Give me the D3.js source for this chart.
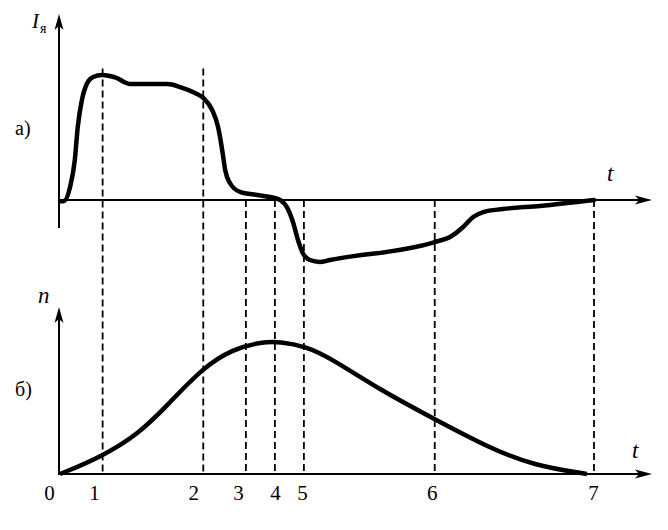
<!DOCTYPE html>
<html><head><meta charset="utf-8">
<script src="https://cdn.jsdelivr.net/npm/d3@7"></script>
<style>body{margin:0;background:#fff}svg{display:block}
svg text{font-family:"Liberation Serif","Noto Serif","DejaVu Serif","Times New Roman",Times,serif;fill:#000}</style>
</head><body><svg id="c" width="668" height="530"></svg>
<script>
// ---- data (arbitrary time units 0..100) ----
const timeMarks = [7.2, 24.2, 31.4, 36.3, 41.2, 63.3, 90.2];
const tickValues = [0, 7.2, 24.2, 31.4, 36.3, 41.2, 63.3, 90.2];
const tickLabels = ["0", "1", "2", "3", "4", "5", "6", "7"];
const dashTopI = [106, 106, 0, 0, 0, 0, 0];   // where each dashed line starts in the upper panel (I units)

const currentT = [0, 0.7, 1.7, 2.5, 3.0, 3.7, 4.6, 5.6, 7.1, 8.4, 9.6, 10.8, 11.8, 15.2, 18.2, 20.3, 22.8, 24.2, 25.7, 26.7, 27.4, 27.9, 28.7, 30.4, 33.3, 35.5, 37.2, 38.3, 39.4, 40.2, 41.0, 42.2, 43.9, 45.6, 63.3, 65.9, 68.1, 69.8, 71.5, 74.8, 81.1, 90.2];
const currentI = [-1, -0.8, 10.5, 32.3, 58.9, 80.6, 94.4, 99.2, 100.8, 100, 98.4, 95.2, 93.5, 93.5, 93.5, 91.1, 86.3, 82.3, 72.6, 58.9, 40.3, 24.2, 13.7, 6.5, 4.0, 2.4, 0, -5.6, -18.5, -32.3, -42.7, -48.4, -50, -48.4, -33.9, -29.8, -21.8, -13.7, -9.7, -7.3, -4.8, 0];

const speedT = [0, 6.8, 13.5, 18.1, 24.2, 29.2, 34.1, 37.2, 41.4, 45.6, 54.1, 63.3, 72.6, 80.0, 89.0];
const speedN = [0, 12.5, 31.1, 52, 80.8, 94.6, 100.2, 100.2, 96.8, 88.2, 63.6, 41.5, 19.6, 6.5, 0];

// ---- styling ----
const labelNudge = [-11, -8.5, -10, -8, 0, -2, -3, -1];

const svg = d3.select("#c");
const x = d3.scaleLinear().domain([0, 100]).range([60, 652]);
const yI = d3.scaleLinear().domain([0, 150]).range([200, 14]);
const yN = d3.scaleLinear().domain([0, 126.5]).range([474, 307]);

function arrowUp(g, xp, yp) {
  g.append("path").attr("d", `M${xp},${yp} L${xp-4.5},${yp+16} L${xp},${yp+12} L${xp+4.5},${yp+16} Z`).attr("fill", "#000");
}
function arrowRight(g, xp, yp) {
  g.append("path").attr("d", `M${xp},${yp} L${xp-17},${yp-4.5} L${xp-13},${yp} L${xp-17},${yp+4.5} Z`).attr("fill", "#000");
}

// dashed guide lines
svg.append("g").selectAll("line").data(timeMarks).join("line")
  .attr("x1", d => x(d)).attr("x2", d => x(d))
  .attr("y1", (d, i) => yI(dashTopI[i])).attr("y2", yN(0))
  .attr("stroke", "#000").attr("stroke-width", 1.8).attr("stroke-dasharray", "7,4");

// axes
const ax = svg.append("g").attr("stroke", "#000").attr("stroke-width", 2);
ax.append("line").attr("x1", x(0) - 1).attr("x2", x(0) - 1).attr("y1", yI(-22.6)).attr("y2", yI(145));
ax.append("line").attr("x1", x(0) - 1).attr("x2", x(99)).attr("y1", yI(0)).attr("y2", yI(0));
ax.append("line").attr("x1", x(0) - 1).attr("x2", x(0) - 1).attr("y1", yN(0) + 1).attr("y2", yN(122));
ax.append("line").attr("x1", x(0) - 1).attr("x2", x(99)).attr("y1", yN(0)).attr("y2", yN(0));
const arr = svg.append("g");
arrowUp(arr, x(0) - 1, yI(150));
arrowRight(arr, x(100), yI(0));
arrowUp(arr, x(0) - 1, yN(126.5));
arrowRight(arr, x(100), yN(0));

// tick labels via d3 axis
const axisG = svg.append("g").attr("transform", `translate(0,${yN(0) + 8})`)
  .call(d3.axisBottom(x).tickValues(tickValues).tickSize(0).tickFormat((d, i) => tickLabels[i]));
axisG.attr("font-family", null).attr("font-size", null);
axisG.select(".domain").remove();
axisG.selectAll("text").style("font-size", "21px").attr("fill", "#000")
  .attr("dx", (d, i) => labelNudge[i]);

// curves
const lineI = d3.line().x((d, i) => x(currentT[i])).y(d => yI(d)).curve(d3.curveMonotoneX);
svg.append("path").attr("d", lineI(currentI)).attr("fill", "none").attr("stroke", "#000")
  .attr("stroke-width", 4.5).attr("stroke-linejoin", "round").attr("stroke-linecap", "round");
const lineN = d3.line().x((d, i) => x(speedT[i])).y(d => yN(d)).curve(d3.curveBasis);
svg.append("path").attr("d", lineN(speedN)).attr("fill", "none").attr("stroke", "#000")
  .attr("stroke-width", 4.5).attr("stroke-linejoin", "round").attr("stroke-linecap", "butt");

// labels
const lab = svg.append("g");
const iy = lab.append("text").attr("x", 32).attr("y", 28).style("font-size", "21px");
iy.append("tspan").style("font-style", "italic").text("I");
iy.append("tspan").style("font-size", "14px").attr("dy", 5).attr("dx", 1).text("я");
lab.append("text").attr("x", 607).attr("y", 181).style("font-size", "23px").style("font-style", "italic").text("t");
lab.append("text").attr("x", 632).attr("y", 458).style("font-size", "23px").style("font-style", "italic").text("t");
lab.append("text").attr("x", 38).attr("y", 303).style("font-size", "23px").style("font-style", "italic").text("n");
lab.append("text").attr("x", 15).attr("y", 135).style("font-size", "20px").text("а)");
lab.append("text").attr("x", 15).attr("y", 396).style("font-size", "20px").text("б)");
</script></body></html>
